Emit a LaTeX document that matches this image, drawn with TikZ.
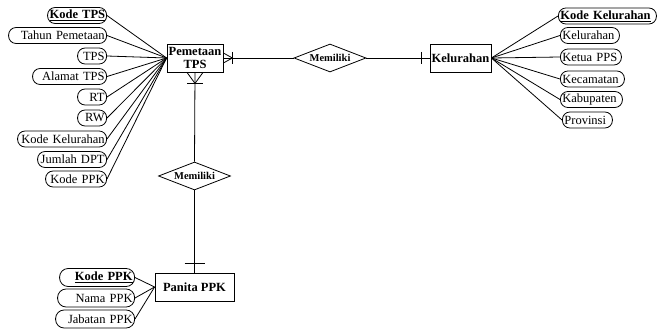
\documentclass[tikz,border=0pt]{standalone}
\usepackage{fontspec}
\setmainfont{Liberation Serif}
\usetikzlibrary{shapes.geometric,calc}
\begin{document}
\begin{tikzpicture}[x=1pt,y=-1pt,line width=0.8pt,
  attr/.style={draw, rounded corners=7.5pt, minimum height=16pt, inner xsep=2pt, inner ysep=0pt,
               font=\fontsize{12.5}{12.5}\selectfont},
  attrL/.style={attr, anchor=east, align=right},
  attrR/.style={attr, anchor=west, align=left},
  attrP/.style={attrL, minimum height=18pt, rounded corners=8.5pt},
  ent/.style={draw, inner sep=0pt, minimum height=28pt, align=center,
              font=\bfseries\fontsize{12.5}{12.5}\selectfont},
  rel/.style={draw, diamond, aspect=2.6, inner sep=0pt, minimum width=72pt, minimum height=28pt,
              font=\bfseries\fontsize{10.5}{11}\selectfont},
  conn/.style={line width=0.8pt}
]
\useasboundingbox (0,0) rectangle (664,331);

% entities
\node[ent, minimum width=56pt] (pem) at (195,58) {Pemetaan\\TPS};
\node[ent, minimum width=61pt] (kel) at (460.5,58) {Kelurahan};
\node[ent, minimum width=79pt] (ppk) at (194.5,287) {Panita PPK};

% relationships
\node[rel] (rel1) at (330,58) {Memiliki};
\node[rel] (rel2) at (194.5,176) {Memiliki};

% attributes of Pemetaan TPS
\node[attrL, text width=55pt] (a1) at (107,15.5) {\mbox{\textbf{\underline{Kode TPS}}}};
\node[attrL, text width=94pt] (a2) at (107,35.5) {\mbox{Tahun Pemetaan}};
\node[attrL, text width=25pt] (a3) at (107,56) {TPS};
\node[attrL, text width=70pt] (a4) at (107,76.5) {\mbox{Alamat TPS}};
\node[attrL, text width=25pt] (a5) at (107,97) {RT};
\node[attrL, text width=25pt] (a6) at (107,118) {RW};
\node[attrL, text width=85pt] (a7) at (107,139) {\mbox{Kode Kelurahan}};
\node[attrL, text width=65pt] (a8) at (107,159.5) {\mbox{Jumlah DPT}};
\node[attrL, text width=57pt] (a9) at (107,179) {\mbox{Kode PPK}};
\foreach \i in {1,...,9} \draw[conn] (a\i.east) -- (pem.west);

% attributes of Kelurahan
\node[attrR, text width=94pt] (b1) at (558,16) {\mbox{\textbf{\underline{Kode Kelurahan}}}};
\node[attrR, text width=55pt] (b2) at (560,35.5) {Kelurahan};
\node[attrR, text width=57pt] (b3) at (560,57) {\mbox{Ketua PPS}};
\node[attrR, text width=60pt] (b4) at (560,79) {Kecamatan};
\node[attrR, text width=58pt] (b5) at (560,99.5) {Kabupaten};
\node[attrR, text width=46pt] (b6) at (562,120) {Provinsi};
\foreach \i in {1,...,6} \draw[conn] (kel.east) -- (b\i.west);

% attributes of Panita PPK
\node[attrP, text width=71pt] (c1) at (135,277.5) {\mbox{\textbf{\underline{Kode PPK}}}};
\node[attrP, text width=73pt] (c2) at (135,298) {\mbox{Nama PPK}};
\node[attrP, text width=75pt] (c3) at (135,319) {\mbox{Jabatan PPK}};
\foreach \i in {1,...,3} \draw[conn] (c\i.east) -- (ppk.west);

% Pemetaan TPS -- Memiliki -- Kelurahan
\draw[conn] (pem.east) -- (rel1.west);
\draw[conn] ($(pem.east)+(0,-5)$) -- ($(pem.east)+(9,0)$) -- ($(pem.east)+(0,5)$);
\draw[conn] ($(pem.east)+(9,-6)$) -- ($(pem.east)+(9,6)$);
\draw[conn] (rel1.east) -- (kel.west);
\draw[conn] ($(kel.west)+(-8,-6)$) -- ($(kel.west)+(-8,6)$);

% Pemetaan TPS -- Memiliki -- Panita PPK
\draw[conn] (pem.south) -- (rel2.north);
\draw[conn] ($(pem.south)+(-8,0)$) -- ($(pem.south)+(0,11)$) -- ($(pem.south)+(8,0)$);
\draw[conn] ($(pem.south)+(-8,11)$) -- ($(pem.south)+(8,11)$);
\draw[conn] (rel2.south) -- (ppk.north);
\draw[conn] ($(ppk.north)+(-10,-9)$) -- ($(ppk.north)+(10,-9)$);
\end{tikzpicture}
\end{document}
